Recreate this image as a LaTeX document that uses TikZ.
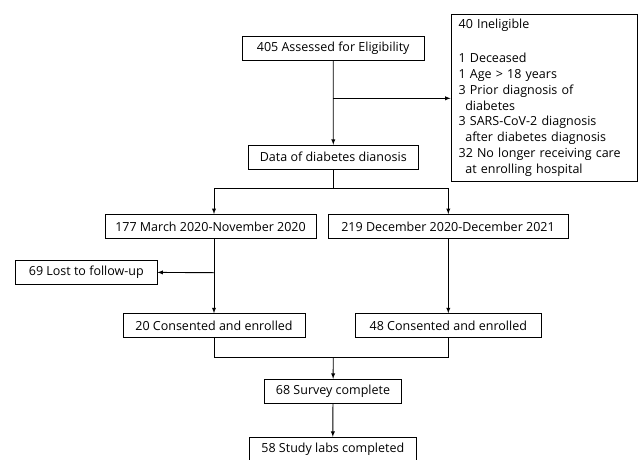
\documentclass[tikz,border=0pt]{standalone}
\usepackage{fontspec}
\setmainfont{Open Sans}
\usetikzlibrary{arrows, shapes}

\newcommand{\subind}{\hspace*{6.7pt}}

\begin{document}
\begin{tikzpicture}[x=1pt, y=-1pt, >=latex,
  box/.style={rectangle, draw=black, line width=0.9pt, fill=white,
    inner sep=0pt, minimum height=24pt,
    font=\fontsize{12.5}{15.8}\selectfont},
  %
  listbox/.style={box, align=left, text width=170.8pt},
  %
  link/.style={draw=black, line width=0.9pt}
  ]

  \fill [white] (0,0) rectangle (640,459);
  \useasboundingbox (0,0) rectangle (640,459);

  % boxes
  \node [box, minimum width=181.7pt] (assess) at (333.2,48) {405 Assessed for Eligibility};
  \node [listbox, minimum width=186pt, minimum height=167.7pt] (inelig) at (544,97.8) {%
    40 Ineligible\\[18pt]
    1 Deceased\\
    1 Age > 18 years\\
    3 Prior diagnosis of\\
    \subind diabetes\\
    3 SARS-CoV-2 diagnosis\\
    \subind after diabetes diagnosis\\
    32 No longer receiving care\\
    \subind at enrolling hospital};
  \node [box, minimum width=170pt] (dxdate) at (333.3,157.2) {Data of diabetes dianosis};
  \node [box, minimum width=211pt] (early) at (210.5,226.5) {177 March 2020-November 2020};
  \node [box, minimum width=240pt] (late) at (448,226.5) {219 December 2020-December 2021};
  \node [box, minimum width=141.3pt] (lost) at (86.3,272) {69 Lost to follow-up};
  \node [box, minimum width=182pt] (earlyin) at (214,325.7) {20 Consented and enrolled};
  \node [box, minimum width=186.7pt] (latein) at (448.3,325.7) {48 Consented and enrolled};
  \node [box, minimum width=137.4pt] (survey) at (333,391.3) {68 Survey complete};
  \node [box, minimum width=167.7pt] (labs) at (332.8,449.3) {58 Study labs completed};

  % junctions
  \coordinate (exclude) at (333.3,98.3);
  \coordinate (split) at (333.3,188.3);
  \coordinate (splitL) at (214,188.3);
  \coordinate (splitR) at (448.3,188.3);
  \coordinate (drop) at (214,272.7);
  \coordinate (mergeL) at (214,357.3);
  \coordinate (mergeR) at (448.3,357.3);
  \coordinate (merge) at (333.3,357.3);

  % connectors
  \draw [link, ->] (assess) -- (dxdate);
  \draw [link, ->] (exclude) -- (exclude -| inelig.west);
  \draw [link] (dxdate) -- (split);
  \draw [link, ->] (splitL) -- (splitL |- early.north);
  \draw [link, ->] (splitR) -- (splitR |- late.north);
  \draw [link] (splitL) -- (splitR);
  \draw [link, ->] (drop |- early.south) -- (drop |- earlyin.north);
  \draw [link, ->] (drop) -- (lost);
  \draw [link, ->] (splitR |- late.south) -- (latein);
  \draw [link] (earlyin) -- (mergeL) -- (mergeR) -- (latein);
  \draw [link, ->] (merge) -- (survey);
  \draw [link, ->] (survey) -- (labs);

\end{tikzpicture}
\end{document}
